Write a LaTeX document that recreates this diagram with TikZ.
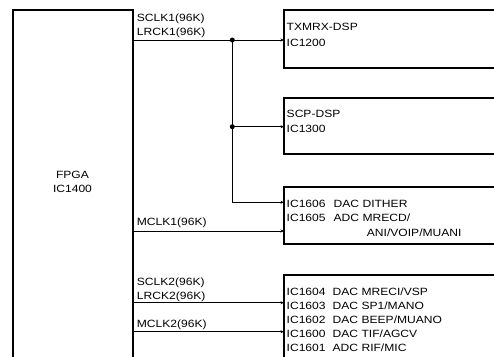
\documentclass[tikz,border=0pt]{standalone}
\usepackage{fontspec}
\setmainfont[FakeStretch=1.15]{Liberation Sans}
\usetikzlibrary{arrows.meta}
\begin{document}
\begin{tikzpicture}[x=1pt,y=-1pt,
 blk/.style={draw, line width=2pt, inner sep=0, outer sep=0, anchor=north west},
 conn/.style={line width=1pt, -{Stealth[length=3.5pt,width=3pt]}},
 wire/.style={line width=1pt},
 lbl/.style={anchor=base west, inner sep=0, font=\fontsize{10.5}{12}\selectfont},
 clbl/.style={anchor=base, inner sep=0, font=\fontsize{10.5}{12}\selectfont},
 jdot/.style={circle, fill, inner sep=0, minimum size=5pt}]
\useasboundingbox (0,0) rectangle (494,356);
\clip (0,0) rectangle (494,356);
% blocks
\node[blk, minimum width=120pt, minimum height=370pt] (fpga) at (13,10) {};
\node[blk, minimum width=230pt, minimum height=57.7pt] (tx) at (284,10) {};
\node[blk, minimum width=230pt, minimum height=56.6pt] (scp) at (284,97.7) {};
\node[blk, minimum width=230pt, minimum height=56.8pt] (dac1) at (284,186.7) {};
\node[blk, minimum width=230pt, minimum height=100pt] (dac2) at (284,275) {};
% block texts
\node[clbl] (f1) at (72.5,178) {FPGA};
\node[clbl] (f2) at (72.5,192) {IC1400};
\node[lbl] (t1) at (286.5,30) {TXMRX-DSP};
\node[lbl] (t2) at (286.5,46) {IC1200};
\node[lbl] (s1) at (286.5,117.3) {SCP-DSP};
\node[lbl] (s2) at (286.5,132.3) {IC1300};
\node[lbl] (d1) at (286.5,207) {\makebox[47pt][l]{IC1606}DAC DITHER};
\node[lbl] (d2) at (286.5,221) {\makebox[47pt][l]{IC1605}ADC MRECD/};
\node[lbl] (d3) at (366.7,236.5) {ANI/VOIP/MUANI};
\node[lbl] (e1) at (286.5,295) {\makebox[46pt][l]{IC1604}DAC MRECI/VSP};
\node[lbl] (e2) at (286.5,309.2) {\makebox[46pt][l]{IC1603}DAC SP1/MANO};
\node[lbl] (e3) at (286.5,323.3) {\makebox[46pt][l]{IC1602}DAC BEEP/MUANO};
\node[lbl] (e4) at (286.5,337.3) {\makebox[46pt][l]{IC1600}DAC TIF/AGCV};
\node[lbl] (e5) at (286.5,351.3) {\makebox[46pt][l]{IC1601}ADC RIF/MIC};
% signal labels
\node[lbl] (l1) at (136.7,21) {SCLK1(96K)};
\node[lbl] (l2) at (136.7,35.5) {LRCK1(96K)};
\node[lbl] (l3) at (136.7,225.7) {MCLK1(96K)};
\node[lbl] (l4) at (136.7,285.7) {SCLK2(96K)};
\node[lbl] (l5) at (136.7,299.3) {LRCK2(96K)};
\node[lbl] (l6) at (136.7,327.3) {MCLK2(96K)};
% junctions and coordinates
\node[jdot] (j1) at (232.3,40) {};
\node[jdot] (j2) at (232.3,126.7) {};
\coordinate (c3) at (232.3,202.3);
\coordinate (m1) at (133,231);
\coordinate (m2) at (133,302.7);
\coordinate (m3) at (133,331.7);
% connectors
\draw[conn] (fpga.north east |- j1) -- (tx.north west |- j1);
\draw[wire] (j1.center) -- (c3);
\draw[conn] (j2.center) -- (scp.north west |- j2);
\draw[conn] (c3) -- (dac1.north west |- c3);
\draw[conn] (m1) -- (dac1.north west |- m1);
\draw[conn] (m2) -- (dac2.north west |- m2);
\draw[conn] (m3) -- (dac2.north west |- m3);
\end{tikzpicture}
\end{document}
